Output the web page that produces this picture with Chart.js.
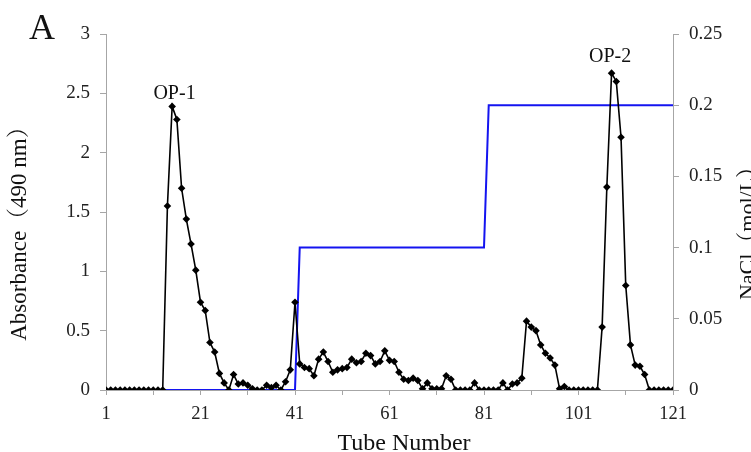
<!DOCTYPE html>
<html>
<head>
<meta charset="utf-8">
<script src="https://cdn.jsdelivr.net/npm/chart.js@4/dist/chart.umd.min.js"></script>
<style>
html,body{margin:0;padding:0;background:#fff;}
#wrap{width:751px;height:452px;position:relative;}
</style>
</head>
<body>
<div id="wrap"><canvas id="c" width="751" height="452"></canvas></div>
<script>
// ---- data ----
const tubes = [1,2,3,4,5,6,7,8,9,10,11,12,13,14,15,16,17,18,19,20,
  21,22,23,24,25,26,27,28,29,30,31,32,33,34,35,36,37,38,39,40,
  41,42,43,44,45,46,47,48,49,50,51,52,53,54,55,56,57,58,59,60,
  61,62,63,64,65,66,67,68,69,70,71,72,73,74,75,76,77,78,79,80,
  81,82,83,84,85,86,87,88,89,90,91,92,93,94,95,96,97,98,99,100,
  101,102,103,104,105,106,107,108,109,110,111,112,113,114,115,116,117,118,119,120,121];

const absorbance = [0,0,0,0,0,0,0,0,0,0,0,0,0,1.55,2.39,2.28,1.70,1.44,1.23,1.01,
  0.74,0.67,0.40,0.32,0.14,0.06,0.00,0.13,0.05,0.06,0.04,0.01,0,0,0.04,0.02,0.04,0.00,0.07,0.17,
  0.74,0.22,0.19,0.18,0.12,0.26,0.32,0.24,0.15,0.17,0.18,0.19,0.26,0.23,0.24,0.31,0.29,0.22,0.24,0.33,
  0.25,0.24,0.15,0.09,0.08,0.10,0.08,0.01,0.06,0.01,0.01,0.01,0.12,0.09,0,0,0,0,0.06,0,
  0,0,0,0,0.06,0,0.05,0.06,0.10,0.58,0.53,0.50,0.38,0.31,0.27,0.21,0.01,0.03,0,0,
  0,0,0,0,0,0.53,1.71,2.67,2.60,2.13,0.88,0.38,0.21,0.20,0.13,0,0,0,0,0,0];

const naclTubes  = [1, 41, 42, 81, 82, 121];
const naclValues = [0, 0, 0.1, 0.1, 0.2, 0.2];

const xTickValues  = [1,11,21,31,41,51,61,71,81,91,101,111,121];
const xLabelValues = [1,21,41,61,81,101,121];
const yLeftTicks   = [0,0.5,1,1.5,2,2.5,3];
const yRightTicks  = [0,0.05,0.1,0.15,0.2,0.25];

// ---- chart ----
const SERIF = '"Liberation Serif","Times New Roman","Noto Serif CJK SC","Noto Sans CJK SC",serif';
const AXIS_GRAY = '#a6a6a6';

const textPlugin = {
  id: 'texts',
  afterDraw(chart) {
    const ctx = chart.ctx;
    const xs = chart.scales.x, ys = chart.scales.y;
    ctx.save();
    ctx.fillStyle = '#111';
    ctx.textAlign = 'left';
    ctx.textBaseline = 'alphabetic';
    ctx.font = '36px ' + SERIF;
    ctx.fillText('A', 29, 39);

    ctx.font = '20px ' + SERIF;
    ctx.textAlign = 'center';
    ctx.fillText('OP-1', xs.getPixelForValue(15.5), ys.getPixelForValue(2.45));
    ctx.fillText('OP-2', xs.getPixelForValue(107.7), ys.getPixelForValue(2.76));

    ctx.font = '24px ' + SERIF;
    ctx.fillText('Tube Number', 404, 450);

    ctx.textBaseline = 'middle';
    ctx.font = '23px ' + SERIF;
    ctx.save();
    ctx.translate(20, 228);
    ctx.rotate(-Math.PI / 2);
    ctx.fillText('Absorbance（490 nm）', 0, 0);
    ctx.restore();

    ctx.font = '22px ' + SERIF;
    ctx.save();
    ctx.translate(748, 228);
    ctx.rotate(-Math.PI / 2);
    ctx.fillText('NaCl（mol/L）', 0, 0);
    ctx.restore();
    ctx.restore();
  }
};

const fmt = v => String(+Number(v).toFixed(2));

new Chart(document.getElementById('c'), {
  type: 'line',
  data: {
    datasets: [
      {
        label: 'Absorbance',
        data: tubes.map((t, i) => ({x: t, y: absorbance[i]})),
        yAxisID: 'y',
        borderColor: '#000',
        backgroundColor: '#000',
        borderWidth: 1.6,
        pointStyle: 'rectRot',
        pointRadius: 3.8,
        pointBorderWidth: 0,
        pointBackgroundColor: '#000',
        tension: 0,
        order: 0
      },
      {
        label: 'NaCl',
        data: naclTubes.map((t, i) => ({x: t, y: naclValues[i]})),
        yAxisID: 'y2',
        borderColor: '#1414f0',
        borderWidth: 2,
        pointRadius: 0,
        tension: 0,
        order: 1
      }
    ]
  },
  options: {
    responsive: false,
    devicePixelRatio: 1,
    animation: false,
    events: [],
    layout: { padding: { top: 34, left: 0, right: 0, bottom: 0 } },
    plugins: { legend: { display: false }, tooltip: { enabled: false }, title: { display: false } },
    scales: {
      x: {
        type: 'linear', position: 'bottom', min: 1, max: 121,
        afterBuildTicks: a => { a.ticks = xTickValues.map(v => ({value: v})); },
        afterFit: a => { a.height = 62; },
        grid: { drawOnChartArea: false, drawTicks: true, tickLength: 5, color: AXIS_GRAY, tickColor: AXIS_GRAY },
        border: { display: true, color: AXIS_GRAY, width: 1 },
        ticks: {
          autoSkip: false, maxRotation: 0, padding: 8, color: '#222',
          font: { family: SERIF, size: 18.5 },
          callback: v => xLabelValues.includes(v) ? String(v) : ''
        }
      },
      y: {
        type: 'linear', position: 'left', min: 0, max: 3,
        afterBuildTicks: a => { a.ticks = yLeftTicks.map(v => ({value: v})); },
        afterFit: a => { a.width = 106; },
        grid: { drawOnChartArea: false, drawTicks: true, tickLength: 6, color: AXIS_GRAY, tickColor: AXIS_GRAY },
        border: { display: true, color: AXIS_GRAY, width: 1 },
        ticks: { padding: 10, color: '#222', font: { family: SERIF, size: 19 }, callback: fmt }
      },
      y2: {
        type: 'linear', position: 'right', min: 0, max: 0.25,
        afterBuildTicks: a => { a.ticks = yRightTicks.map(v => ({value: v})); },
        afterFit: a => { a.width = 78; },
        grid: { drawOnChartArea: false, drawTicks: true, tickLength: 6, color: AXIS_GRAY, tickColor: AXIS_GRAY },
        border: { display: true, color: AXIS_GRAY, width: 1 },
        ticks: { padding: 10, color: '#222', font: { family: SERIF, size: 19 }, callback: fmt }
      }
    }
  },
  plugins: [textPlugin]
});
</script>
</body>
</html>
